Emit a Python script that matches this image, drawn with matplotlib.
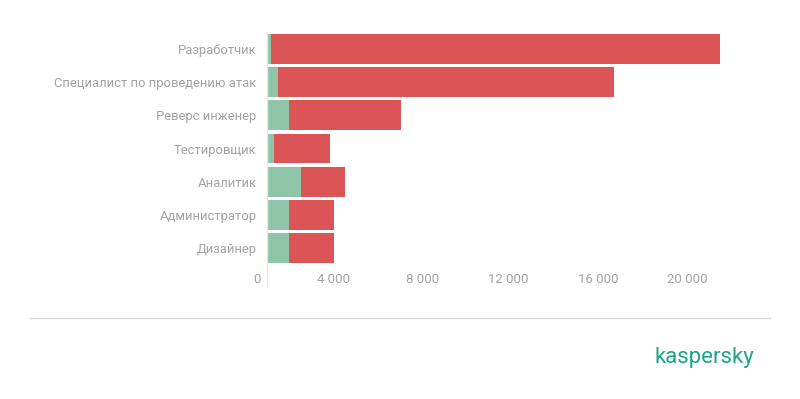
import matplotlib
matplotlib.use('Agg')
import matplotlib.pyplot as plt
from matplotlib.lines import Line2D
from matplotlib.transforms import ScaledTranslation
import numpy as np

plt.rcParams['font.family'] = ['Roboto', 'DejaVu Sans']

roles = ['Разработчик', 'Специалист по проведению атак', 'Реверс инженер',
         'Тестировщик', 'Аналитик', 'Администратор', 'Дизайнер']
green_vals = [190, 510, 1000, 330, 1530, 1000, 1000]
red_vals = [20100, 15030, 5020, 2510, 1980, 2020, 2020]
x_ticks = [0, 4000, 8000, 12000, 16000, 20000]
x_tick_labels = ['0', '4 000', '8 000', '12 000', '16 000', '20 000']

GREEN = '#8fc4a9'
RED = '#db5456'
GREY = '#a3a3a3'

W, H = 800, 399
fig = plt.figure(figsize=(W / 100, H / 100), dpi=100)

# axes placed in pixel terms: x=0 at 267px, 4000 units ~ 89.3px
x0_px, px_per_unit = 267, 89.3 / 4000
xmax = 22000
right_px = x0_px + xmax * px_per_unit
top_px, bottom_px = 33, 287
ax = fig.add_axes([x0_px / W, 1 - bottom_px / H, (right_px - x0_px) / W, (bottom_px - top_px) / H])

y = np.arange(len(roles))
ax.barh(y, green_vals, height=0.9, color=GREEN, edgecolor='none')
ax.barh(y, red_vals, left=green_vals, height=0.9, color=RED, edgecolor='none')

pitch = 33.17
ax.set_ylim((bottom_px - 49) / pitch, (top_px - 49) / pitch)
ax.set_xlim(0, xmax)

for s in ['top', 'right', 'bottom']:
    ax.spines[s].set_visible(False)
ax.spines['left'].set_color('#e6e6e6')
ax.spines['left'].set_linewidth(1)

ax.set_yticks(y)
ax.set_yticklabels(roles)
ax.tick_params(axis='y', length=0, pad=7.4, labelsize=9.4, labelcolor=GREY)

ax.set_xticks(x_ticks)
ax.set_xticklabels(x_tick_labels)
ax.tick_params(axis='x', length=0, pad=-10, labelsize=9.5, labelcolor=GREY)
for lbl in ax.get_xticklabels():
    lbl.set_horizontalalignment('right')
    lbl.set_transform(lbl.get_transform() + ScaledTranslation(-6 / 100, 0, fig.dpi_scale_trans))

# divider line and logo
fig.add_artist(Line2D([30 / W, 770 / W], [1 - 318 / H, 1 - 318 / H], color='#d9d9d9', linewidth=1))
fig.text(754 / W, 1 - 358 / H, 'kaspersky', color='#1ba68a', fontsize=16,
         ha='right', va='center', fontweight='normal')

fig.savefig('out.png', dpi=100, facecolor='white')
